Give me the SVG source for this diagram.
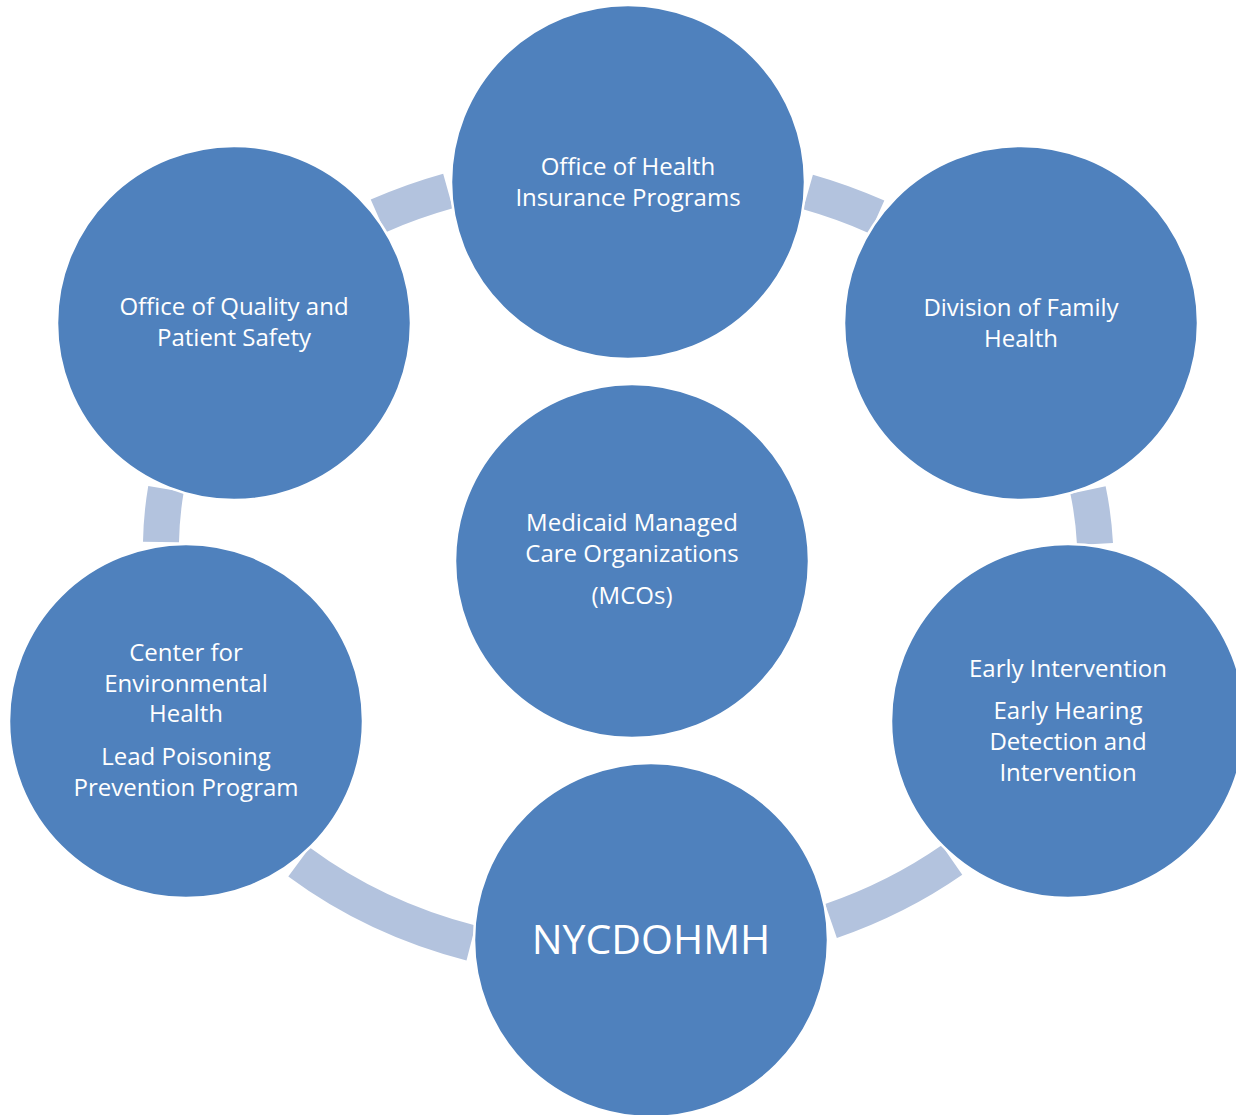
<svg xmlns="http://www.w3.org/2000/svg" width="1236" height="1115" viewBox="0 0 1236 1115">
<style>
.conn{fill:none;stroke:#B3C3DE;stroke-width:36;stroke-linecap:butt}
.node{fill:#4F81BD;stroke:#FFFFFF;stroke-width:2.5}
.t{font-family:"Open Sans","DejaVu Sans",sans-serif;font-size:24px;fill:#FFFFFF;text-anchor:middle}
.big{font-size:41px}
</style>
<rect width="1236" height="1115" fill="#FFFFFF"/>
<g id="connectors">
<path class="conn" d="M378,216 A471,405 0 0,1 448,191"/>
<path class="conn" d="M808,192 A471,405 0 0,1 877,217"/>
<path class="conn" d="M1088,490 A471,405 0 0,1 1095,544"/>
<path class="conn" d="M952,860 A471,405 0 0,1 831,921"/>
<path class="conn" d="M471,943 A471,405 0 0,1 299,862"/>
<path class="conn" d="M161,542 A471,405 0 0,1 166,489"/>
</g>
<g id="node-top">
<circle class="node" cx="628" cy="182" r="177"/>
<text class="t" x="628" y="175">Office of Health</text>
<text class="t" x="628" y="206">Insurance Programs</text>
</g>
<g id="node-top-left">
<circle class="node" cx="234" cy="323" r="177"/>
<text class="t" x="234" y="315">Office of Quality and</text>
<text class="t" x="234" y="346">Patient Safety</text>
</g>
<g id="node-top-right">
<circle class="node" cx="1021" cy="323" r="177"/>
<text class="t" x="1021" y="316">Division of Family</text>
<text class="t" x="1021" y="347">Health</text>
</g>
<g id="node-center">
<circle class="node" cx="632" cy="561" r="177"/>
<text class="t" x="632" y="531">Medicaid Managed</text>
<text class="t" x="632" y="562">Care Organizations</text>
<text class="t" x="632" y="604">(MCOs)</text>
</g>
<g id="node-left">
<circle class="node" cx="186" cy="721" r="177"/>
<text class="t" x="186" y="661">Center for</text>
<text class="t" x="186" y="692">Environmental</text>
<text class="t" x="186" y="722">Health</text>
<text class="t" x="186" y="765">Lead Poisoning</text>
<text class="t" x="186" y="796">Prevention Program</text>
</g>
<g id="node-right">
<circle class="node" cx="1068" cy="721" r="177"/>
<text class="t" x="1068" y="677">Early Intervention</text>
<text class="t" x="1068" y="719">Early Hearing</text>
<text class="t" x="1068" y="750">Detection and</text>
<text class="t" x="1068" y="781">Intervention</text>
</g>
<g id="node-bottom">
<circle class="node" cx="651" cy="940" r="177"/>
<text class="t big" x="651" y="954">NYCDOHMH</text>
</g>
</svg>
